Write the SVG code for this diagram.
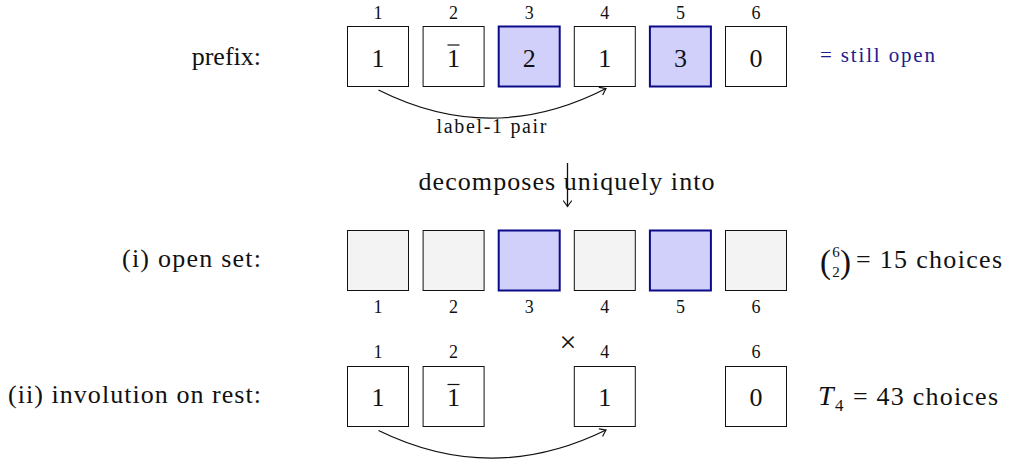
<svg xmlns="http://www.w3.org/2000/svg" width="1011" height="466" viewBox="0 0 1011 466">
<style>
text{font-family:"Liberation Serif","DejaVu Serif",serif;fill:#111}
.lab{font-size:26px;text-anchor:end}
.big{font-size:26px;text-anchor:middle}
.idx{font-size:18px;text-anchor:middle}
.box{fill:#fff;stroke:#111;stroke-width:1}
.grey{fill:#f3f3f3;stroke:#111;stroke-width:1}
.open{fill:#d0d0fa;stroke:#0a0a8a;stroke-width:2}
.conn{fill:none;stroke:#111;stroke-width:1.3}
.bar{stroke:#111;stroke-width:1.2}
</style>
<defs>
<marker id="arr" markerUnits="userSpaceOnUse" markerWidth="14" markerHeight="14" refX="0" refY="0" viewBox="-8 -7 10 14" orient="auto">
<path d="M-5.5,-4 Q-1.5,-1 0,0 Q-1.5,1 -5.5,4" fill="none" stroke="#111" stroke-width="1.2" stroke-linecap="round"/>
</marker>
</defs>

<!-- row labels -->
<g id="row-labels">
<text class="lab" x="261" y="65">prefix:</text>
<text class="lab" x="261" y="267" textLength="139">(i) open set:</text>
<text class="lab" x="261" y="403" textLength="253">(ii) involution on rest:</text>
</g>

<!-- row 1: prefix -->
<g id="prefix-row">
<g id="p1"><text class="idx" x="378" y="19">1</text><rect class="box" x="347.5" y="26.5" width="61" height="60"/><text class="big" x="378" y="66.5">1</text></g>
<g id="p2"><text class="idx" x="453.6" y="19">2</text><rect class="box" x="423.1" y="26.5" width="61" height="60"/><text class="big" x="453.6" y="66.5">1</text><line class="bar" x1="447.5" y1="45" x2="459.5" y2="45"/></g>
<g id="p3"><text class="idx" x="529.2" y="19">3</text><rect class="open" x="498.7" y="26.5" width="61" height="60"/><text class="big" x="529.2" y="66.5">2</text></g>
<g id="p4"><text class="idx" x="604.8" y="19">4</text><rect class="box" x="574.3" y="26.5" width="61" height="60"/><text class="big" x="604.8" y="66.5">1</text></g>
<g id="p5"><text class="idx" x="680.4" y="19">5</text><rect class="open" x="649.9" y="26.5" width="61" height="60"/><text class="big" x="680.4" y="66.5">3</text></g>
<g id="p6"><text class="idx" x="756" y="19">6</text><rect class="box" x="725.5" y="26.5" width="61" height="60"/><text class="big" x="756" y="66.5">0</text></g>
<text id="legend" x="820" y="61.5" style="font-size:21px;fill:#1c1c8e" textLength="115">= still open</text>
</g>

<!-- row 2: open set -->
<g id="open-row">
<g id="o1"><rect class="grey" x="347.5" y="230.5" width="61" height="60"/><text class="idx" x="378" y="313">1</text></g>
<g id="o2"><rect class="grey" x="423.1" y="230.5" width="61" height="60"/><text class="idx" x="453.6" y="313">2</text></g>
<g id="o3"><rect class="open" x="498.7" y="230.5" width="61" height="60"/><text class="idx" x="529.2" y="313">3</text></g>
<g id="o4"><rect class="grey" x="574.3" y="230.5" width="61" height="60"/><text class="idx" x="604.8" y="313">4</text></g>
<g id="o5"><rect class="open" x="649.9" y="230.5" width="61" height="60"/><text class="idx" x="680.4" y="313">5</text></g>
<g id="o6"><rect class="grey" x="725.5" y="230.5" width="61" height="60"/><text class="idx" x="756" y="313">6</text></g>
<g id="binom">
<text x="820" y="273" style="font-size:33px">(</text>
<text x="836" y="257" style="font-size:15px;text-anchor:middle">6</text>
<text x="836" y="277" style="font-size:15px;text-anchor:middle">2</text>
<text x="840" y="273" style="font-size:33px">)</text>
<text x="856" y="268" style="font-size:26px" textLength="146">= 15 choices</text>
</g>
</g>

<!-- row 3: involution on rest -->
<g id="rest-row">
<g id="r1"><text class="idx" x="378" y="358">1</text><rect class="box" x="347.5" y="366.5" width="61" height="60"/><text class="big" x="378" y="406">1</text></g>
<g id="r2"><text class="idx" x="453.6" y="358">2</text><rect class="box" x="423.1" y="366.5" width="61" height="60"/><text class="big" x="453.6" y="406">1</text><line class="bar" x1="447.5" y1="384.5" x2="459.5" y2="384.5"/></g>
<g id="r4"><text class="idx" x="604.8" y="358">4</text><rect class="box" x="574.3" y="366.5" width="61" height="60"/><text class="big" x="604.8" y="406">1</text></g>
<g id="r6"><text class="idx" x="756" y="358">6</text><rect class="box" x="725.5" y="366.5" width="61" height="60"/><text class="big" x="756" y="406">0</text></g>
<text x="568" y="352" style="font-size:30px;text-anchor:middle">×</text>
<text x="818" y="405" style="font-size:28px;font-style:italic">T</text>
<text x="835" y="411" style="font-size:17px">4</text>
<text x="853" y="405" style="font-size:26px" textLength="145">= 43 choices</text>
</g>

<!-- connectors -->
<g id="connectors">
<path class="conn" d="M378.5,90 Q492,147 606,88.5" marker-end="url(#arr)"/>
<text x="491.5" y="133" style="font-size:20px;text-anchor:middle" textLength="110">label-1 pair</text>
<line class="conn" x1="567.5" y1="163" x2="567.5" y2="206.5" marker-end="url(#arr)"/>
<text class="big" x="566.5" y="190" textLength="296">decomposes uniquely into</text>
<path class="conn" d="M378.5,430.5 Q492,486 606,430" marker-end="url(#arr)"/>
</g>
</svg>
